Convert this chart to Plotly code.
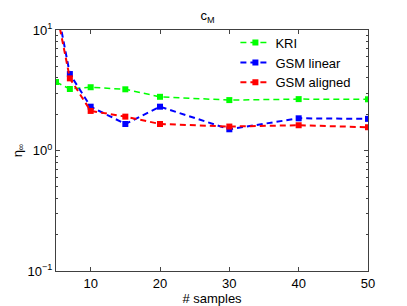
import plotly.graph_objects as go

samples = [5, 7, 10, 15, 20, 30, 40, 50]
kri = [3.70, 3.24, 3.35, 3.22, 2.79, 2.62, 2.67, 2.66]
gsm_linear = [17.0, 4.31, 2.31, 1.66, 2.31, 1.50, 1.85, 1.83]
gsm_aligned = [15.0, 3.97, 2.13, 1.91, 1.66, 1.58, 1.62, 1.56]
x_ticks = [10, 20, 30, 40, 50]
y_ticks = [0.1, 1, 10]
y_ticktext = ["10<sup>−1</sup>", "10<sup>0</sup>", "10<sup>1</sup>"]
y_minor = [0.2, 0.3, 0.4, 0.5, 0.6, 0.7, 0.8, 0.9, 2, 3, 4, 5, 6, 7, 8, 9]

fig = go.Figure()
series = [("KRI", kri, "#00ff00", 1.5), ("GSM linear", gsm_linear, "#0000ff", 2),
          ("GSM aligned", gsm_aligned, "#ff0000", 2)]
for name, ys, col, w in series:
    fig.add_trace(go.Scatter(x=samples, y=ys, name=name, mode="lines+markers",
                             line=dict(color=col, width=w, dash="6px,4px"),
                             marker=dict(symbol="square", size=6, color=col),
                             cliponaxis=True))

# page body has an 8px margin, so the figure is sized/offset to compensate
font = dict(family="Liberation Sans, Arial, sans-serif", size=13, color="black")
fig.update_layout(
    width=399, height=298,
    margin=dict(l=48, r=39, t=22, b=35, autoexpand=False),
    paper_bgcolor="white", plot_bgcolor="white",
    font=font,
    title=dict(text="c<sub>M</sub>", x=0.5, xanchor="center", y=0.975, yanchor="middle",
               font=dict(size=13), automargin=False),
    legend=dict(x=0.575, y=1.01, xanchor="left", yanchor="top",
                bgcolor="rgba(255,255,255,0)", borderwidth=0,
                font=dict(size=13), itemwidth=30, tracegroupgap=0),
    showlegend=True,
)
fig.update_xaxes(range=[5, 50], tickvals=x_ticks, ticks="inside", ticklen=4,
                 showline=True, linecolor="#404040", linewidth=1, mirror="ticks",
                 showgrid=False, zeroline=False, automargin=False,
                 title=dict(text="# samples", standoff=0, font=dict(size=13)))
fig.update_yaxes(type="log", range=[-1, 1], tickvals=y_ticks, ticktext=y_ticktext,
                 ticks="inside", ticklen=4,
                 minor=dict(tickvals=y_minor, ticks="inside", ticklen=2, tickcolor="#404040"),
                 showline=True, linecolor="#404040", linewidth=1, mirror="ticks",
                 showgrid=False, zeroline=False, automargin=False,
                 title=dict(text="η<sub>∞</sub>", standoff=2, font=dict(size=13)))

fig.write_html("out.html")
